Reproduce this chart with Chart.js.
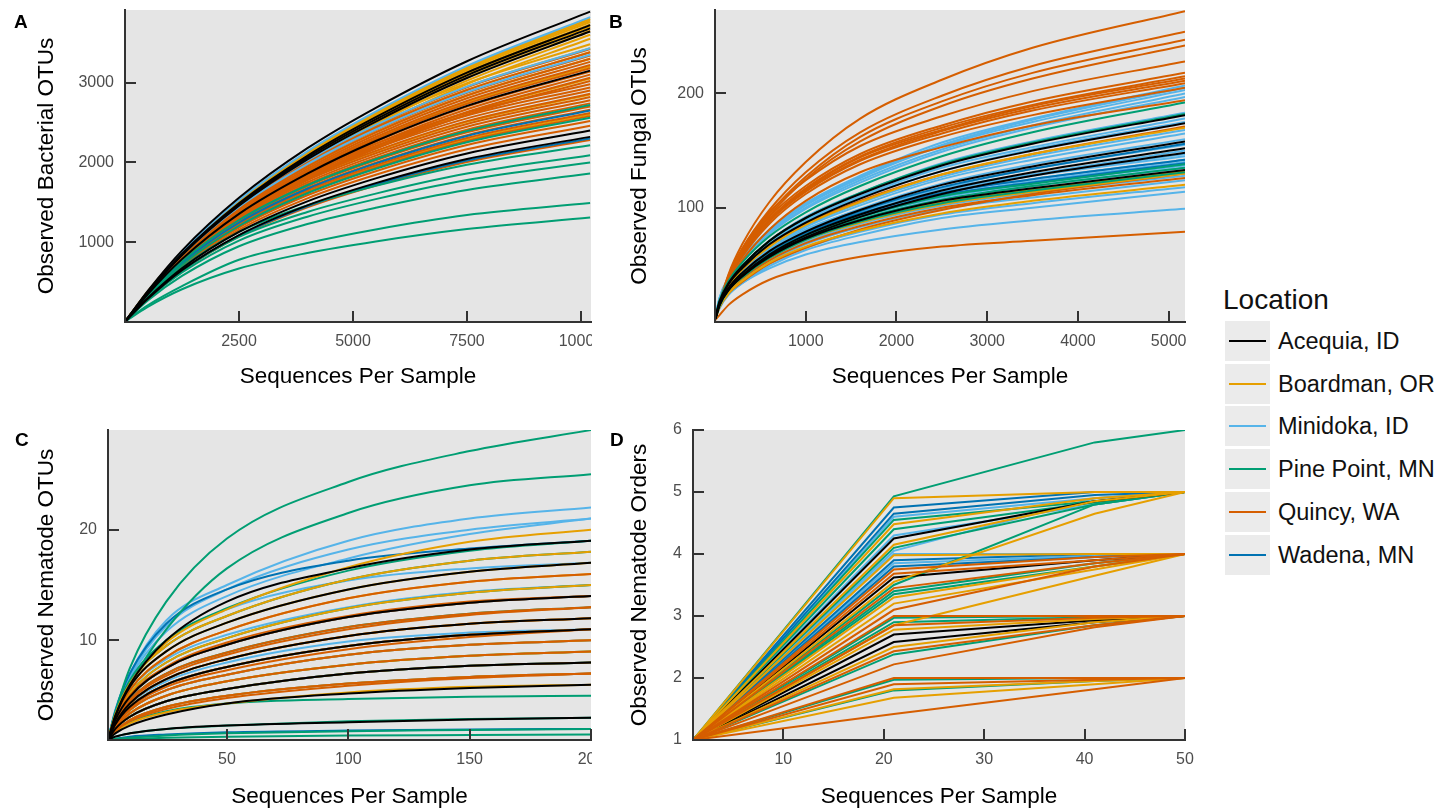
<!DOCTYPE html>
<html>
<head>
<meta charset="utf-8">
<script src="https://cdn.jsdelivr.net/npm/chart.js@4.4.1/dist/chart.umd.min.js"></script>
<style>
  html, body { margin: 0; padding: 0; background: #fff; }
  body { width: 1448px; height: 811px; overflow: hidden; position: relative; font-family: "Liberation Sans", Arial, Helvetica, sans-serif; }
  .panel { position: absolute; overflow: hidden; }
  .letter { position: absolute; font-weight: bold; font-size: 19px; line-height: 19px; color: #000; }
  #legend { position: absolute; left: 1223px; top: 286px; }
  #legend .ltitle { font-size: 28px; line-height: 28px; color: #111; }
  .lrow { position: absolute; left: 2px; height: 40px; width: 230px; }
  .lkey { position: absolute; left: 0; top: 0; width: 45px; height: 40px; background: #ebebeb; }
  .lkey i { position: absolute; left: 4px; top: 19px; width: 37px; height: 2px; }
  .llabel { position: absolute; left: 53px; top: 0; height: 40px; line-height: 40px; font-size: 23.5px; color: #111; white-space: nowrap; }
</style>
</head>
<body>
<div class="panel" style="left:0;top:0;width:592px;height:400px"><canvas id="chartA" width="620" height="400"></canvas></div>
<div class="panel" style="left:600px;top:0;width:600px;height:400px"><canvas id="chartB" width="600" height="400"></canvas></div>
<div class="panel" style="left:0;top:400px;width:592px;height:418px"><canvas id="chartC" width="620" height="418"></canvas></div>
<div class="panel" style="left:600px;top:400px;width:600px;height:418px"><canvas id="chartD" width="600" height="418"></canvas></div>
<div class="letter" style="left:14px;top:12px">A</div>
<div class="letter" style="left:609px;top:12px">B</div>
<div class="letter" style="left:15px;top:430px">C</div>
<div class="letter" style="left:610px;top:430px">D</div>
<div id="legend"><div class="ltitle">Location</div></div>
<script>
const locations = ['Acequia, ID', 'Boardman, OR', 'Minidoka, ID', 'Pine Point, MN', 'Quincy, WA', 'Wadena, MN'];
const colors = ['#000000', '#E69F00', '#56B4E9', '#009E73', '#D55E00', '#0072B2'];
const fontFamily = '"Liberation Sans", Arial, Helvetica, sans-serif';

// A: bacterial OTUs
const bactDepth = [10, 500, 1250, 2500, 4000, 5500, 7500, 10200];
const bactTicksX = [2500, 5000, 7500, 10000];
const bactTicksY = [1000, 2000, 3000];
const bactAcequia = [
  [12, 390, 895, 1556, 2178, 2684, 3268, 3890],
  [11, 372, 856, 1488, 2083, 2567, 3125, 3720],
  [11, 368, 846, 1472, 2061, 2539, 3091, 3680],
  [11, 364, 837, 1456, 2038, 2512, 3058, 3640],
  [9, 347, 788, 1355, 1859, 2268, 2709, 3150],
  [10, 300, 672, 1128, 1512, 1800, 2112, 2400],
  [9, 290, 650, 1090, 1462, 1740, 2042, 2320]
];
const bactBoardman = [
  [11, 380, 874, 1520, 2128, 2622, 3192, 3800],
  [11, 378, 870, 1512, 2117, 2608, 3175, 3780],
  [11, 376, 865, 1504, 2106, 2594, 3158, 3760],
  [11, 373, 858, 1492, 2089, 2574, 3133, 3730],
  [11, 370, 851, 1480, 2072, 2553, 3108, 3700],
  [11, 365, 840, 1460, 2044, 2519, 3066, 3650],
  [11, 360, 828, 1440, 2016, 2484, 3024, 3600],
  [11, 355, 817, 1420, 1988, 2450, 2982, 3550],
  [10, 383, 870, 1496, 2053, 2506, 2993, 3480],
  [10, 377, 858, 1475, 2024, 2470, 2950, 3430],
  [10, 372, 845, 1453, 1994, 2434, 2907, 3380],
  [10, 363, 825, 1419, 1947, 2376, 2838, 3300],
  [10, 352, 800, 1376, 1888, 2304, 2752, 3200],
  [9, 336, 763, 1312, 1800, 2196, 2623, 3050],
  [11, 356, 798, 1340, 1796, 2138, 2508, 2850],
  [10, 325, 728, 1222, 1638, 1950, 2288, 2600]
];
const bactMinidoka = [
  [11, 382, 879, 1528, 2139, 2636, 3209, 3820],
  [10, 377, 858, 1475, 2024, 2470, 2950, 3430],
  [10, 369, 838, 1441, 1977, 2412, 2881, 3350]
];
const bactPinePoint = [
  [11, 340, 762, 1278, 1714, 2040, 2394, 2720],
  [10, 320, 717, 1203, 1613, 1920, 2253, 2560],
  [16, 321, 687, 1130, 1462, 1706, 1971, 2215],
  [15, 303, 648, 1066, 1379, 1609, 1860, 2090],
  [14, 290, 620, 1020, 1320, 1540, 1780, 2000],
  [13, 270, 577, 949, 1228, 1432, 1655, 1860],
  [11, 210, 450, 780, 990, 1160, 1340, 1490],
  [10, 190, 410, 670, 865, 1010, 1165, 1310]
];
const bactQuincy = [
  [10, 376, 855, 1471, 2018, 2462, 2941, 3420],
  [10, 372, 845, 1453, 1994, 2434, 2907, 3380],
  [10, 367, 835, 1436, 1971, 2405, 2872, 3340],
  [10, 363, 825, 1419, 1947, 2376, 2838, 3300],
  [10, 359, 815, 1402, 1923, 2347, 2804, 3260],
  [10, 354, 805, 1385, 1900, 2318, 2769, 3220],
  [10, 350, 795, 1367, 1876, 2290, 2735, 3180],
  [9, 345, 785, 1350, 1853, 2261, 2700, 3140],
  [9, 341, 775, 1333, 1829, 2232, 2666, 3100],
  [9, 337, 765, 1316, 1805, 2203, 2632, 3060],
  [9, 332, 755, 1299, 1782, 2174, 2597, 3020],
  [12, 373, 834, 1401, 1877, 2235, 2622, 2980],
  [12, 368, 823, 1382, 1852, 2205, 2587, 2940],
  [12, 363, 812, 1363, 1827, 2175, 2552, 2900],
  [11, 358, 801, 1344, 1802, 2145, 2517, 2860],
  [11, 353, 790, 1325, 1777, 2115, 2482, 2820],
  [11, 348, 778, 1307, 1751, 2085, 2446, 2780],
  [11, 343, 767, 1288, 1726, 2055, 2411, 2740],
  [11, 338, 756, 1269, 1701, 2025, 2376, 2700],
  [11, 333, 745, 1250, 1676, 1995, 2341, 2660],
  [10, 328, 734, 1231, 1651, 1965, 2306, 2620],
  [10, 323, 722, 1213, 1625, 1935, 2270, 2580],
  [10, 315, 706, 1184, 1588, 1890, 2218, 2520],
  [10, 308, 689, 1156, 1550, 1845, 2165, 2460],
  [9, 285, 638, 1072, 1436, 1710, 2006, 2280]
];
const bactWadena = [
  [9, 288, 644, 1081, 1449, 1725, 2024, 2300],
  [11, 331, 742, 1246, 1670, 1988, 2332, 2650]
];

// B: fungal OTUs
const fungDepth = [5, 50, 150, 300, 600, 1000, 1600, 2500, 3500, 5180];
const fungTicksX = [1000, 2000, 3000, 4000, 5000];
const fungTicksY = [100, 200];
const fungAcequia = [
  [4, 18, 34, 49, 71, 91, 112, 137, 156, 181],
  [3, 17, 33, 47, 68, 87, 108, 132, 150, 174],
  [3, 16, 30, 43, 62, 79, 98, 120, 136, 158],
  [3, 15, 29, 41, 59, 76, 94, 115, 131, 152],
  [3, 15, 28, 40, 58, 74, 92, 112, 128, 148],
  [3, 15, 28, 40, 57, 73, 89, 106, 117, 133]
];
const fungBoardman = [
  [3, 17, 32, 46, 66, 85, 105, 129, 147, 170],
  [3, 15, 28, 40, 57, 73, 88, 105, 116, 132],
  [3, 14, 27, 39, 56, 72, 87, 103, 114, 130],
  [3, 13, 25, 36, 52, 66, 80, 95, 106, 120]
];
const fungMinidoka = [
  [4, 21, 39, 56, 81, 104, 128, 157, 178, 207],
  [4, 21, 39, 55, 80, 103, 127, 155, 177, 205],
  [4, 20, 39, 55, 79, 102, 126, 154, 175, 203],
  [4, 20, 38, 54, 78, 100, 124, 151, 172, 200],
  [4, 20, 37, 53, 77, 99, 122, 149, 170, 197],
  [4, 18, 35, 49, 71, 92, 113, 139, 158, 183],
  [4, 18, 34, 48, 69, 89, 110, 135, 153, 178],
  [4, 18, 33, 47, 68, 88, 109, 132, 151, 175],
  [3, 17, 32, 45, 66, 84, 104, 127, 145, 168],
  [3, 17, 31, 45, 64, 83, 102, 125, 142, 165],
  [3, 16, 30, 43, 62, 80, 99, 121, 138, 160],
  [3, 16, 29, 42, 60, 78, 96, 117, 134, 155],
  [3, 15, 29, 41, 59, 75, 93, 114, 129, 150],
  [4, 16, 31, 44, 63, 81, 98, 117, 129, 147],
  [4, 16, 30, 44, 62, 80, 97, 115, 128, 145],
  [4, 16, 30, 43, 61, 78, 95, 113, 125, 142],
  [4, 15, 29, 42, 60, 77, 94, 111, 123, 140],
  [3, 15, 29, 41, 59, 75, 92, 109, 121, 137],
  [3, 15, 28, 41, 58, 74, 90, 107, 119, 135],
  [3, 14, 27, 38, 55, 70, 86, 102, 113, 128],
  [3, 14, 26, 37, 53, 68, 83, 99, 109, 124],
  [3, 13, 25, 35, 51, 65, 79, 94, 104, 118],
  [3, 13, 24, 34, 49, 63, 76, 91, 100, 114],
  [3, 12, 24, 34, 47, 59, 70, 81, 89, 99]
];
const fungPinePoint = [
  [4, 19, 36, 52, 75, 96, 119, 145, 166, 192],
  [4, 18, 35, 49, 71, 91, 113, 138, 157, 182],
  [3, 15, 29, 41, 59, 76, 92, 110, 121, 138],
  [3, 15, 28, 41, 58, 74, 90, 107, 119, 135],
  [3, 14, 28, 39, 56, 72, 88, 104, 115, 131]
];
const fungQuincy = [
  [3, 16, 42, 68, 105, 140, 178, 212, 240, 272],
  [3, 15, 39, 64, 98, 131, 166, 198, 224, 254],
  [3, 15, 38, 62, 95, 127, 162, 193, 218, 247],
  [3, 14, 37, 61, 93, 125, 158, 189, 213, 242],
  [3, 17, 41, 64, 96, 124, 154, 180, 202, 228],
  [3, 16, 39, 61, 92, 119, 147, 172, 193, 218],
  [3, 16, 39, 60, 90, 117, 145, 170, 190, 215],
  [3, 16, 38, 60, 89, 116, 144, 168, 189, 213],
  [3, 16, 38, 59, 89, 115, 142, 167, 187, 211],
  [3, 16, 38, 59, 88, 114, 141, 165, 185, 209],
  [3, 15, 37, 57, 86, 112, 138, 162, 181, 205],
  [3, 15, 35, 54, 81, 106, 131, 153, 172, 194],
  [3, 17, 32, 46, 67, 86, 106, 129, 147, 171],
  [3, 13, 25, 35, 51, 65, 81, 98, 112, 130],
  [3, 14, 26, 38, 54, 69, 84, 100, 111, 126],
  [2, 6, 15, 24, 37, 47, 57, 66, 71, 79]
];
const fungWadena = [
  [3, 16, 30, 42, 61, 78, 97, 118, 134, 156],
  [4, 16, 30, 43, 61, 78, 95, 113, 125, 142],
  [3, 15, 29, 42, 60, 76, 93, 111, 122, 139]
];

// C: nematode OTUs
const nemaDepth = [1, 4, 10, 25, 50, 100, 150, 200];
const nemaTicksX = [50, 100, 150, 200];
const nemaTicksY = [10, 20];
const nemaAcequia = [
  [1, 3.2, 6.0, 10.0, 13.5, 16.5, 18.2, 19],
  [1, 3.1, 5.8, 9.0, 11.6, 14.6, 16.2, 17],
  [1, 2.8, 4.9, 7.5, 9.6, 12.1, 13.4, 14],
  [1, 2.5, 4.3, 6.5, 8.3, 10.4, 11.5, 12],
  [1, 2.4, 4.0, 6.0, 7.6, 9.5, 10.5, 11],
  [1, 2.0, 3.1, 4.5, 5.6, 7.0, 7.7, 8],
  [1, 1.6, 2.3, 3.3, 4.3, 5.2, 5.7, 6],
  [1, 1.3, 1.6, 2.0, 2.3, 2.6, 2.85, 3]
];
const nemaBoardman = [
  [1, 3.2, 6.0, 9.8, 12.8, 16.6, 18.9, 20],
  [1, 3.3, 6.1, 9.5, 12.2, 15.5, 17.2, 18],
  [1, 3.1, 5.8, 9.0, 11.6, 14.6, 16.2, 17],
  [1, 3.0, 5.5, 8.5, 10.9, 13.8, 15.3, 16],
  [1, 2.9, 5.2, 8.0, 10.2, 12.9, 14.3, 15],
  [1, 2.5, 4.3, 6.5, 8.3, 10.4, 11.5, 12],
  [1, 2.4, 4.0, 6.0, 7.6, 9.5, 10.5, 11],
  [1, 2.2, 3.7, 5.5, 6.9, 8.7, 9.6, 10],
  [1, 2.1, 3.4, 5.0, 6.3, 7.8, 8.6, 9],
  [1, 1.8, 2.8, 4.0, 5.0, 6.1, 6.7, 7],
  [1, 1.7, 2.5, 3.5, 4.3, 5.3, 5.8, 6]
];
const nemaMinidoka = [
  [1, 3.7, 7.0, 11.8, 15.0, 19.0, 21.0, 22],
  [1, 3.6, 6.8, 11.3, 14.6, 18.2, 20.0, 21],
  [1, 3.5, 6.6, 10.8, 14.0, 17.4, 19.6, 21],
  [1, 3.4, 6.3, 10.0, 12.8, 15.4, 16.5, 17],
  [1, 3.0, 5.5, 8.3, 10.5, 13.0, 14.4, 15],
  [1, 2.4, 4.2, 6.3, 8.0, 9.9, 10.7, 11]
];
const nemaPinePoint = [
  [1, 3.5, 7.5, 13.5, 19.2, 24.3, 27.1, 29],
  [1, 3.2, 6.0, 11.0, 16.5, 21.5, 24.0, 25],
  [1, 3.4, 6.4, 10.0, 12.9, 16.3, 18.1, 19],
  [1, 3.3, 6.1, 9.5, 12.2, 15.5, 17.2, 18],
  [1, 2.9, 5.2, 8.0, 10.2, 12.9, 14.3, 15],
  [1, 2.6, 4.6, 7.0, 8.9, 11.2, 12.4, 13],
  [1, 2.1, 3.4, 5.0, 6.3, 7.8, 8.6, 9],
  [1, 2.0, 3.1, 4.5, 5.6, 7.0, 7.7, 8],
  [1, 1.8, 2.6, 3.6, 4.3, 4.7, 4.9, 5],
  [1, 1.3, 1.6, 2.0, 2.3, 2.7, 2.9, 3],
  [1, 1.1, 1.2, 1.4, 1.6, 1.8, 1.9, 2],
  [1, 1.05, 1.1, 1.2, 1.3, 1.4, 1.45, 1.5]
];
const nemaQuincy = [
  [1, 3.0, 5.5, 8.5, 10.9, 13.8, 15.3, 16],
  [1, 2.8, 5.0, 7.6, 9.8, 12.2, 13.5, 14],
  [1, 2.8, 4.9, 7.5, 9.6, 12.1, 13.4, 14],
  [1, 2.6, 4.6, 7.0, 8.9, 11.2, 12.4, 13],
  [1, 2.6, 4.5, 6.8, 8.7, 11.0, 12.3, 13],
  [1, 2.5, 4.3, 6.5, 8.3, 10.4, 11.5, 12],
  [1, 2.4, 4.0, 6.0, 7.6, 9.5, 10.5, 11],
  [1, 2.3, 3.9, 5.8, 7.3, 9.2, 10.3, 11],
  [1, 2.2, 3.7, 5.5, 6.9, 8.7, 9.6, 10],
  [1, 2.1, 3.4, 5.0, 6.3, 7.8, 8.6, 9],
  [1, 2.0, 3.1, 4.5, 5.6, 7.0, 7.7, 8],
  [1, 1.8, 2.8, 4.0, 5.0, 6.1, 6.7, 7],
  [1, 1.8, 2.7, 3.8, 4.8, 5.9, 6.6, 7]
];
const nemaWadena = [
  [1, 3.6, 7.0, 11.5, 14.6, 17.2, 18.3, 19],
  [1, 2.8, 4.9, 7.5, 9.6, 12.1, 13.4, 14],
  [1, 2.4, 4.0, 6.0, 7.6, 9.5, 10.5, 11],
  [1, 2.2, 3.7, 5.5, 6.9, 8.7, 9.6, 10],
  [1, 2.0, 3.1, 4.5, 5.6, 7.0, 7.7, 8],
  [1, 1.8, 2.8, 4.0, 5.0, 6.1, 6.7, 7],
  [1, 1.1, 1.3, 1.5, 1.7, 1.85, 1.95, 2]
];

// D: nematode orders
const orderDepth = [1, 21, 41, 50];
const orderTicksX = [10, 20, 30, 40, 50];
const orderTicksY = [1, 2, 3, 4, 5, 6];
const orderAcequia = [
  [1, 4.25, 4.85, 5], [1, 3.62, 3.9, 4], [1, 2.7, 2.93, 3], [1, 2.58, 2.9, 3]
];
const orderBoardman = [
  [1, 4.9, 5, 5], [1, 4.48, 4.9, 5], [1, 4.15, 4.85, 5], [1, 3.55, 4.65, 5],
  [1, 3.98, 4, 4], [1, 3.3, 3.8, 4], [1, 3.2, 3.75, 4], [1, 2.85, 3.65, 4],
  [1, 2.78, 2.95, 3], [1, 2.5, 2.9, 3], [1, 1.82, 1.95, 2], [1, 1.68, 1.9, 2]
];
const orderMinidoka = [
  [1, 4.6, 4.9, 5], [1, 4.3, 4.8, 5], [1, 4.05, 4.9, 5],
  [1, 4.0, 4.0, 4], [1, 3.85, 3.97, 4]
];
const orderPinePoint = [
  [1, 4.93, 5.8, 6], [1, 4.55, 4.85, 5], [1, 4.4, 4.83, 5], [1, 4.1, 4.8, 5], [1, 3.5, 4.8, 5],
  [1, 3.4, 3.85, 4], [1, 3.35, 3.8, 4],
  [1, 2.97, 3, 3], [1, 2.9, 2.98, 3], [1, 2.38, 2.85, 3],
  [1, 1.97, 2, 2], [1, 1.8, 1.95, 2]
];
const orderQuincy = [
  [1, 3.75, 3.95, 4], [1, 3.68, 3.9, 4], [1, 3.45, 3.85, 4], [1, 3.1, 3.8, 4],
  [1, 3.0, 3.0, 3], [1, 2.85, 2.97, 3], [1, 2.43, 2.85, 3], [1, 2.22, 2.82, 3],
  [1, 2.0, 2.0, 2], [1, 1.9, 1.97, 2], [1, 1.42, 1.82, 2]
];
const orderWadena = [
  [1, 4.75, 5, 5], [1, 4.65, 4.95, 5], [1, 3.9, 4, 4], [1, 3.8, 3.95, 4]
];

// gray panel behind the curves
const panelBg = {
  id: 'panelBg',
  beforeDraw(chart) {
    const a = chart.chartArea, ctx = chart.ctx;
    ctx.save();
    ctx.fillStyle = '#e5e5e5';
    ctx.fillRect(a.left, a.top, a.right - a.left, a.bottom - a.top);
    ctx.restore();
  }
};

// tick marks pointing into the panel
const innerTicks = {
  id: 'innerTicks',
  afterDatasetsDraw(chart) {
    const ctx = chart.ctx, a = chart.chartArea;
    const xs = chart.scales.x, ys = chart.scales.y;
    ctx.save();
    ctx.strokeStyle = '#333';
    ctx.lineWidth = 2;
    ctx.beginPath();
    xs.ticks.forEach(t => {
      const px = Math.round(xs.getPixelForValue(t.value));
      ctx.moveTo(px, a.bottom);
      ctx.lineTo(px, a.bottom - 11);
    });
    ys.ticks.forEach(t => {
      const py = Math.round(ys.getPixelForValue(t.value));
      ctx.moveTo(a.left, py);
      ctx.lineTo(a.left + 11, py);
    });
    ctx.stroke();
    ctx.restore();
  }
};

function buildDatasets(depth, groups, order, smooth) {
  const sets = [];
  order.forEach(loc => {
    groups[loc].forEach(curve => {
      sets.push({
        label: locations[loc],
        data: depth.map((x, i) => ({ x: x, y: curve[i] })),
        borderColor: colors[loc],
        borderWidth: 2,
        pointRadius: 0,
        fill: false,
        tension: smooth ? 0.4 : 0,
        cubicInterpolationMode: smooth ? 'monotone' : 'default'
      });
    });
  });
  return sets;
}

function makePanel(id, p) {
  new Chart(document.getElementById(id), {
    type: 'line',
    data: { datasets: buildDatasets(p.depth, p.groups, p.order, p.smooth) },
    plugins: [panelBg, innerTicks],
    options: {
      responsive: false,
      animation: false,
      events: [],
      layout: { padding: p.padding },
      plugins: { legend: { display: false }, tooltip: { enabled: false } },
      scales: {
        x: {
          type: 'linear', min: p.xMin, max: p.xMax,
          grid: { display: false },
          border: { display: true, color: '#333', width: 2, z: 1 },
          ticks: { color: '#4d4d4d', font: { family: fontFamily, size: 16 }, padding: 2, maxRotation: 0, autoSkip: false, callback: v => String(v) },
          afterBuildTicks: s => { s.ticks = p.xTicks.map(v => ({ value: v })); },
          afterFit: s => { s.height = 78; s.paddingLeft = 0; s.paddingRight = 0; },
          title: { display: true, text: 'Sequences Per Sample', color: '#000', font: { family: fontFamily, size: 22.5 }, padding: { top: 0, bottom: p.xTitlePad } }
        },
        y: {
          type: 'linear', min: p.yMin, max: p.yMax,
          grid: { display: false },
          border: { display: true, color: '#333', width: 2, z: 1 },
          ticks: { color: '#4d4d4d', font: { family: fontFamily, size: 16 }, padding: 3, autoSkip: false, callback: v => String(v) },
          afterBuildTicks: s => { s.ticks = p.yTicks.map(v => ({ value: v })); },
          afterFit: s => { s.width = p.yWidth; s.paddingTop = 0; s.paddingBottom = 0; },
          title: { display: true, text: p.yTitle, color: '#000', font: { family: fontFamily, size: 22.5 }, padding: { top: p.yTitlePad, bottom: 0 } }
        }
      }
    }
  });
}

makePanel('chartA', {
  depth: bactDepth,
  groups: [bactAcequia, bactBoardman, bactMinidoka, bactPinePoint, bactQuincy, bactWadena],
  order: [0, 2, 3, 5, 4, 1], smooth: true,
  xMin: 0, xMax: 10220, yMin: 0, yMax: 3910,
  xTicks: bactTicksX, yTicks: bactTicksY,
  yTitle: 'Observed Bacterial OTUs', yWidth: 125, yTitlePad: 33.5, xTitlePad: 10,
  padding: { left: 0, top: 10, right: 29, bottom: 0 }
});

makePanel('chartB', {
  depth: fungDepth,
  groups: [fungAcequia, fungBoardman, fungMinidoka, fungPinePoint, fungQuincy, fungWadena],
  order: [0, 3, 1, 4, 5, 2], smooth: true,
  xMin: 0, xMax: 5180, yMin: 0, yMax: 273,
  xTicks: fungTicksX, yTicks: fungTicksY,
  yTitle: 'Observed Fungal OTUs', yWidth: 115, yTitlePad: 26.5, xTitlePad: 10,
  padding: { left: 0, top: 10, right: 15, bottom: 0 }
});

makePanel('chartC', {
  depth: nemaDepth,
  groups: [nemaAcequia, nemaBoardman, nemaMinidoka, nemaPinePoint, nemaQuincy, nemaWadena],
  order: [0, 4, 1, 3, 5, 2], smooth: true,
  xMin: 1, xMax: 200, yMin: 1, yMax: 29,
  xTicks: nemaTicksX, yTicks: nemaTicksY,
  yTitle: 'Observed Nematode OTUs', yWidth: 108, yTitlePad: 33.5, xTitlePad: 8,
  padding: { left: 0, top: 30, right: 29, bottom: 0 }
});

makePanel('chartD', {
  depth: orderDepth,
  groups: [orderAcequia, orderBoardman, orderMinidoka, orderPinePoint, orderQuincy, orderWadena],
  order: [4, 1, 0, 3, 5, 2], smooth: false,
  xMin: 1, xMax: 50, yMin: 1, yMax: 6,
  xTicks: orderTicksX, yTicks: orderTicksY,
  yTitle: 'Observed Nematode Orders', yWidth: 93, yTitlePad: 26.5, xTitlePad: 8,
  padding: { left: 0, top: 30, right: 15, bottom: 0 }
});

// legend
const legend = document.getElementById('legend');
locations.forEach((name, i) => {
  const row = document.createElement('div');
  row.className = 'lrow';
  row.style.top = (35 + i * 42.7) + 'px';
  row.innerHTML = '<span class="lkey"><i style="background:' + colors[i] + '"></i></span><span class="llabel">' + name + '</span>';
  legend.appendChild(row);
});
</script>
</body>
</html>
